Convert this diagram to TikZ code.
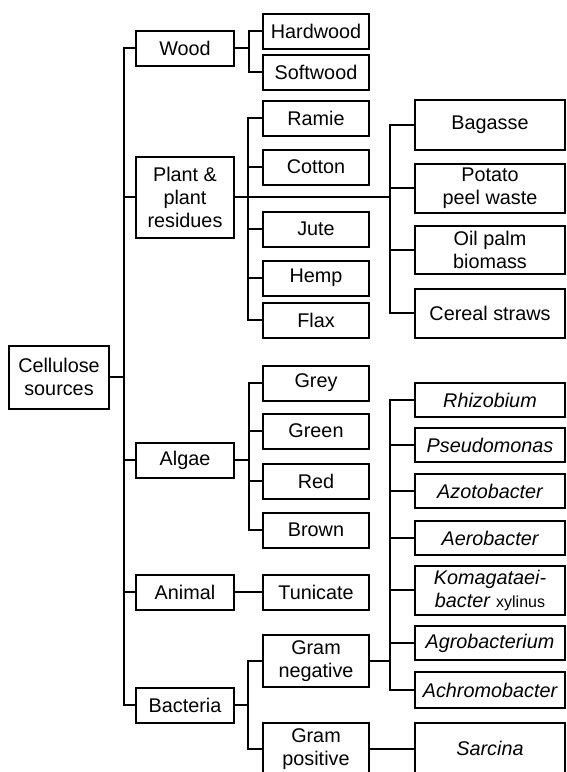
\documentclass[tikz,border=0pt]{standalone}
\usepackage{fontspec}
\setmainfont{Liberation Sans}
\usetikzlibrary{calc}

\begin{document}
\begin{tikzpicture}[x=1pt,y=-1pt,line width=2pt,
  every node/.style={draw,shape=rectangle,align=center,inner sep=0pt,
    font=\fontsize{19.8}{23}\selectfont},
  lone/.style={minimum width=98pt,minimum height=35pt},
  ltwo/.style={minimum width=106pt,minimum height=35pt},
  lthree/.style={minimum width=150pt,minimum height=34pt}]
  \useasboundingbox (0,0) rectangle (567,772);
  \clip (0,0) rectangle (567,772);
  \path (59,377) node[minimum width=100pt,minimum height=63pt] (cell) {Cellulose\\sources}
  (185,48) node[lone] (wood) {Wood}
  (185,197) node[lone,minimum height=81pt] (plant) {Plant \&\\plant\\residues}
  (185,460) node[lone] (algae) {Algae}
  (185,592) node[lone] (animal) {Animal}
  (185,705) node[lone] (bact) {Bacteria};
  \path (316,31) node[ltwo] (hard) {Hardwood} (316,72) node[ltwo] (soft) {Softwood}
  (316,118) node[ltwo] (ramie) {Ramie} (316,167) node[ltwo] (cotton) {Cotton}
  (316,229) node[ltwo] (jute) {Jute} (316,278) node[ltwo] (hemp) {Hemp}
  (316,320) node[ltwo] (flax) {Flax}
  (316,383) node[ltwo] (grey) {Grey} (316,431) node[ltwo] (green) {Green}
  (316,481) node[ltwo] (red) {Red} (316,530) node[ltwo] (brown) {Brown}
  (316,592) node[ltwo] (tunic) {Tunicate}
  (316,661) node[ltwo,minimum height=52pt] (gneg) {Gram\\negative}
  (316,749) node[ltwo,minimum height=52pt] (gpos) {Gram\\positive};
  \path (490,125) node[lthree,minimum height=50pt] (bag) {Bagasse}
  (490,188) node[lthree,minimum height=49pt] (potato) {Potato\\peel waste}
  (490,250) node[lthree,minimum height=48pt] (oilpalm) {Oil palm\\biomass}
  (490,313) node[lthree,minimum height=49pt] (cereal) {Cereal straws}
  (490,400) node[lthree] (rhizo) {\itshape Rhizobium}
  (490,445) node[lthree] (pseudo) {\itshape Pseudomonas}
  (490,491) node[lthree] (azoto) {\itshape Azotobacter}
  (490,538) node[lthree] (aero) {\itshape Aerobacter}
  (490,590) node[lthree,minimum height=49pt] (koma) {\itshape Komagataei-\\\textit{bacter} {\fontsize{16}{23}\selectfont\upshape xylinus}}
  (490,643) node[lthree] (agro) {\itshape Agrobacterium}
  (490,690) node[lthree,minimum height=36pt] (achro) {\itshape Achromobacter}
  (490,748) node[lthree,minimum height=50pt] (sarc) {\itshape Sarcina};
  \coordinate (t0) at (124,377);
  \coordinate (tw) at (249,48);
  \coordinate (tp) at (248,197);
  \coordinate (tr) at (390,197);
  \coordinate (ta) at (249,460);
  \coordinate (tb) at (248,705);
  \coordinate (tn) at (390,661);
  \draw (cell) -- (t0);
  \foreach \c in {wood,plant,algae,animal,bact} \draw (\c.west) -| (t0);
  \draw (wood) -- (tw);
  \foreach \c in {hard,soft} \draw (\c.west) -| (tw);
  \draw (plant) -- (tr);
  \foreach \c in {ramie,cotton,jute,hemp,flax} \draw (\c.west) -| (tp);
  \foreach \c in {bag,potato,oilpalm,cereal} \draw (\c.west) -| (tr);
  \draw (algae) -- (ta);
  \foreach \c in {grey,green,red,brown} \draw (\c.west) -| (ta);
  \draw (animal) -- (tunic);
  \draw (bact) -- (tb);
  \foreach \c in {gneg,gpos} \draw (\c.west) -| (tb);
  \draw (gneg) -- (tn);
  \foreach \c in {rhizo,pseudo,azoto,aero,koma,agro,achro} \draw (\c.west) -| (tn);
  \draw (gpos.east) -- (gpos.east -| sarc.west);
\end{tikzpicture}
\end{document}
